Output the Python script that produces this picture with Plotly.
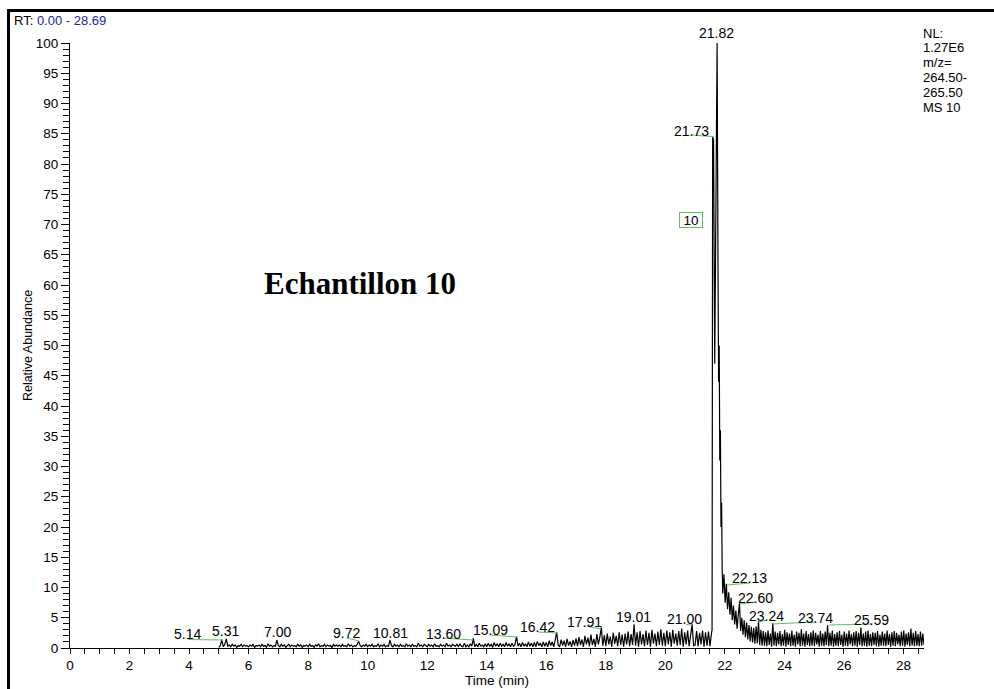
import numpy as np
import plotly.graph_objects as go

# ---------------- data ----------------
# baseline scans 5.00 .. 21.55 min (0.05 min scan interval)
base_start, base_step = 5.00, 0.05
base_values = [
    0.1, 0.4, 1.4, 0.2, 0.6, 1.5, 0.3, 0.5, 0.2, 0.6, 0.3, 0.5, 0.1, 0.4, 0.3, 0.6, 0.2, 0.5, 0.3, 0.4,
    0.2, 0.5, 0.3, 0.6, 0.1, 0.4, 0.3, 0.5, 0.2, 0.6, 0.3, 0.4, 0.1, 0.7, 0.3, 0.5, 0.2, 0.4, 0.3, 1.3,
    0.4, 0.2, 0.6, 0.3, 0.5, 0.1, 0.4, 0.6, 0.2, 0.5, 0.3, 0.4, 0.2, 0.6, 0.3, 0.5, 0.1, 0.4, 0.3, 0.5,
    0.2, 0.6, 0.3, 0.4, 0.1, 0.5, 0.3, 0.7, 0.2, 0.4, 0.3, 0.6, 0.2, 0.5, 0.3, 0.4, 0.1, 0.6, 0.3, 0.5,
    0.3, 0.5, 0.2, 0.6, 0.3, 0.4, 0.2, 0.7, 0.3, 0.5, 0.2, 0.4, 0.3, 0.6, 1.1, 0.4, 0.2, 0.5, 0.3, 0.6,
    0.2, 0.5, 0.3, 0.6, 0.2, 0.4, 0.3, 0.7, 0.2, 0.5, 0.3, 0.6, 0.2, 0.4, 0.3, 1.3, 0.4, 0.2, 0.6, 0.3,
    0.5, 0.2, 0.6, 0.3, 0.4, 0.2, 0.7, 0.3, 0.5, 0.2, 0.6, 0.3, 0.4, 0.2, 0.8, 0.3, 0.5, 0.2, 0.6, 0.4,
    0.2, 0.6, 0.3, 0.5, 0.2, 0.7, 0.3, 0.4, 0.2, 0.6, 0.3, 0.5, 0.2, 0.8, 0.3, 0.5, 0.2, 0.6, 0.4, 0.3,
    0.6, 0.2, 0.7, 0.3, 0.2, 0.8, 0.2, 0.5, 0.2, 0.7, 0.3, 1.6, 0.2, 0.6, 0.2, 0.8, 0.3, 0.5, 0.2, 0.7,
    0.2, 0.8, 0.3, 0.6, 0.1, 0.9, 0.3, 0.7, 0.2, 0.8, 0.3, 0.6, 0.2, 0.9, 0.3, 0.7, 0.2, 0.8, 0.3, 0.6,
    1.9, 0.3, 0.8, 0.2, 0.9, 0.3, 0.7, 0.2, 1.0, 0.3, 0.8, 0.2, 0.9, 0.2, 1.1, 0.4, 0.8, 0.2, 1.0, 0.3,
    0.9, 0.2, 1.2, 0.4, 1.0, 0.2, 1.3, 2.6, 0.5, 0.2, 1.4, 0.4, 1.2, 0.2, 1.5, 0.4, 1.1, 0.2, 1.3, 0.4,
    1.6, 0.3, 1.8, 0.5, 1.4, 0.2, 2.0, 0.6, 1.7, 0.3, 2.2, 0.5, 1.5, 0.2, 2.3, 0.6, 1.8, 3.4, 0.4, 2.1,
    0.3, 2.4, 0.6, 1.9, 0.2, 2.5, 0.7, 2.0, 0.3, 2.6, 0.5, 2.2, 0.2, 2.4, 0.6, 2.7, 0.3, 2.3, 0.5, 3.9,
    0.4, 2.6, 0.2, 2.8, 0.6, 2.3, 0.3, 2.9, 0.5, 2.5, 0.2, 3.0, 0.7, 2.4, 0.3, 2.7, 0.5, 3.1, 0.4, 2.5,
    0.3, 2.9, 0.6, 2.6, 0.2, 3.0, 0.7, 2.4, 0.4, 2.8, 0.5, 3.2, 0.2, 2.6, 0.6, 2.9, 0.3, 2.7, 3.9, 0.4,
    0.5, 2.8, 0.3, 2.5, 0.6, 2.9, 0.2, 2.6, 0.4, 2.7, 0.3, 2.4,
]

# main peak scans
peak_times = [21.57, 21.59, 21.62, 21.66, 21.74, 21.77, 21.79, 21.81, 21.83, 21.85, 21.87, 21.89, 21.91]
peak_values = [3.0, 84.5, 84.0, 47.0, 100.0, 62.0, 44.0, 50.0, 31.0, 36.0, 20.0, 24.0, 13.0]

# tailing / late baseline scans 21.93 .. 28.69 min (0.04 min scan interval)
tail_start, tail_step = 21.93, 0.04
tail_values = [
    9.0, 12.2, 7.5, 10.6, 6.4, 9.2, 5.5, 8.3, 4.6, 7.0, 3.9, 6.2, 3.2, 5.4, 7.4, 2.8, 5.0, 2.2, 4.6, 1.8,
    4.2, 1.4, 3.8, 1.1, 3.5, 0.9, 3.3, 0.7, 3.6, 0.8, 4.4, 0.5, 3.0, 0.4, 2.8,
    0.4, 2.6, 0.3, 2.9, 0.5, 2.4, 0.2, 4.1, 0.4, 2.7,
    0.3, 2.5, 0.6, 2.8, 0.3, 2.3, 0.4, 3.0, 0.2, 2.6,
    0.5, 2.4, 0.3, 2.9, 0.4, 2.2, 0.2, 2.7, 0.6, 2.5,
    0.3, 3.1, 0.4, 2.4, 0.2, 2.8, 0.5, 2.3, 0.3, 2.6,
    0.4, 2.9, 0.3, 2.5, 0.6, 2.2, 0.2, 2.8, 0.4, 2.4,
    0.3, 2.7, 0.5, 3.8, 0.3, 2.5, 0.4, 2.9, 0.2, 2.3,
    0.4, 2.6, 0.3, 2.8, 0.5, 2.2, 0.2, 2.7, 0.4, 2.4,
    0.3, 2.9, 0.6, 2.3, 0.3, 2.6, 0.4, 2.8, 0.2, 2.5,
    0.5, 3.4, 0.3, 2.4, 0.4, 2.7, 0.2, 2.9, 0.4, 2.3,
    0.3, 2.6, 0.5, 2.5, 0.3, 2.8, 0.2, 2.2, 0.4, 2.7,
    0.4, 2.4, 0.3, 2.9, 0.5, 2.3, 0.2, 2.6, 0.4, 2.8,
    0.3, 2.5, 0.6, 2.2, 0.3, 2.7, 0.4, 2.9, 0.2, 2.4,
    0.5, 2.6, 0.3, 3.2, 0.4, 2.5, 0.3, 2.8, 0.4, 2.3,
    0.3, 2.7, 0.4, 2.4, 0.5,
]

# peak labels (retention times) and their label anchor positions
label_text = ["5.14", "5.31", "7.00", "9.72", "10.81", "13.60", "15.09", "16.42", "17.91",
              "19.01", "21.00", "21.73", "21.82", "22.13", "22.60", "23.24", "23.74", "25.59"]
label_x = [3.95, 5.24, 6.97, 9.30, 10.77, 12.55, 14.12, 15.70, 17.30,
           18.94, 20.66, 20.89, 21.73, 22.83, 23.03, 23.40, 25.04, 26.91]
label_y = [2.3, 2.8, 2.6, 2.4, 2.5, 2.3, 2.9, 3.5, 4.3,
           5.1, 4.8, 85.5, 101.6, 11.6, 8.3, 5.3, 5.0, 4.6]

# green label leader segments (x0, y0, x1, y1)
seg_x0 = [3.96, 9.30, 12.53, 14.11, 15.72, 17.33, 20.69, 20.89, 22.07, 22.51, 23.14, 23.61, 25.50]
seg_y0 = [1.40, 1.65, 1.65, 2.15, 2.64, 3.64, 3.88, 84.8, 10.41, 7.27, 4.30, 3.97, 3.80]
seg_x1 = [5.14, 9.71, 13.54, 15.02, 16.36, 17.84, 20.89, 21.63, 22.84, 23.01, 23.41, 25.06, 26.94]
seg_y1 = [1.32, 1.16, 1.32, 1.82, 2.48, 3.14, 3.80, 84.5, 10.74, 7.60, 4.63, 4.30, 3.97]

x_range = [0, 28.69]
y_range = [0, 100]

info_lines = ["NL:", "1.27E6", "m/z=", "264.50-", "265.50", "MS 10"]

# ---------------- build ----------------
base_times = np.round(base_start + base_step * np.arange(len(base_values)), 3)
tail_times = np.round(tail_start + tail_step * np.arange(len(tail_values)), 3)
times = np.concatenate([base_times, peak_times, tail_times])
values = np.concatenate([base_values, peak_values, tail_values])

W, H = 994, 689
ML, MR, MT, MB = 70, 70, 43, 41
PW, PH = W - ML - MR, H - MT - MB


def px(xp):
    return (xp - ML) / PW


def py(yp):
    return (H - MB - yp) / PH


def dx(v):
    return (v - x_range[0]) / (x_range[1] - x_range[0])


def dy(v):
    return (v - y_range[0]) / (y_range[1] - y_range[0])


FONT = "Liberation Sans, Arial, sans-serif"
GREEN = "#5cc25c"

fig = go.Figure()
fig.add_trace(go.Scatter(x=times, y=values, mode="lines",
                         line=dict(color="black", width=1.2), hoverinfo="skip",
                         showlegend=False))

annotations = []
for t, x, y in zip(label_text, label_x, label_y):
    # paper-referenced so labels above the axis range are still drawn
    annotations.append(dict(x=dx(x), y=dy(y), xref="paper", yref="paper", text=t, showarrow=False,
                            font=dict(family=FONT, size=14, color="black"),
                            xanchor="center", yanchor="middle"))

# boxed compound number
annotations.append(dict(x=20.86, y=70.8, xref="x", yref="y", text="10", showarrow=False,
                        font=dict(family=FONT, size=13.5, color="black"),
                        bordercolor=GREEN, borderwidth=1, borderpad=0,
                        width=22, height=14, xanchor="center", yanchor="middle"))

# sample name
annotations.append(dict(x=px(360), y=py(283), xref="paper", yref="paper",
                        text="<b>Echantillon 10</b>", showarrow=False,
                        font=dict(family="Liberation Serif, Times New Roman, serif", size=31, color="black"),
                        xanchor="center", yanchor="middle"))

# RT header
annotations.append(dict(x=px(12), y=py(20.5), xref="paper", yref="paper",
                        text="RT: <span style='color:#2424a8'>0.00 - 28.69</span>",
                        showarrow=False, font=dict(family=FONT, size=13, color="black"),
                        xanchor="left", yanchor="middle"))

# NL info block
info_y = [33.5, 48, 62.7, 77.5, 92.5, 107.3]
for line, yy in zip(info_lines, info_y):
    annotations.append(dict(x=px(921), y=py(yy), xref="paper", yref="paper", text=line,
                            showarrow=False, font=dict(family=FONT, size=13, color="black"),
                            xanchor="left", yanchor="middle"))

shapes = []
for a, b, c, d in zip(seg_x0, seg_y0, seg_x1, seg_y1):
    shapes.append(dict(type="line", xref="x", yref="y", x0=a, y0=b, x1=c, y1=d,
                       line=dict(color=GREEN, width=1)))
# outer frame (top and left thick lines)
shapes.append(dict(type="line", xref="paper", yref="paper", x0=px(7), x1=px(1000),
                   y0=py(10.5), y1=py(10.5), line=dict(color="black", width=3)))
shapes.append(dict(type="line", xref="paper", yref="paper", x0=px(8.5), x1=px(8.5),
                   y0=py(9), y1=py(700), line=dict(color="black", width=3)))

fig.update_layout(
    width=W, height=H,
    margin=dict(l=ML, r=MR, t=MT, b=MB, pad=0, autoexpand=False),
    paper_bgcolor="white", plot_bgcolor="white",
    font=dict(family=FONT, size=13.5, color="black"),
    annotations=annotations, shapes=shapes, showlegend=False,
    xaxis=dict(range=x_range, showgrid=False, zeroline=False, showline=True, automargin=False,
               linecolor="black", linewidth=1, ticks="outside", ticklen=5, tickwidth=1,
               tickcolor="black", tick0=0, dtick=2, tickfont=dict(family=FONT, size=13.5),
               minor=dict(ticks="outside", ticklen=5, tickwidth=1, tickcolor="black", dtick=0.5),
               title=dict(text="Time (min)", font=dict(family=FONT, size=13.5), standoff=3)),
    yaxis=dict(range=y_range, showgrid=False, zeroline=False, showline=True, automargin=False,
               linecolor="black", linewidth=1, ticks="outside", ticklen=8, tickwidth=1,
               tickcolor="black", tick0=0, dtick=5, tickfont=dict(family=FONT, size=13.5),
               minor=dict(ticks="outside", ticklen=6, tickwidth=1, tickcolor="black", dtick=1),
               title=dict(text="Relative Abundance", font=dict(family=FONT, size=12.5), standoff=0)),
)

fig.write_html(
    "out.html",
    config={"displayModeBar": False},
    post_script="document.body.style.margin='0';document.body.style.overflow='hidden';",
)
